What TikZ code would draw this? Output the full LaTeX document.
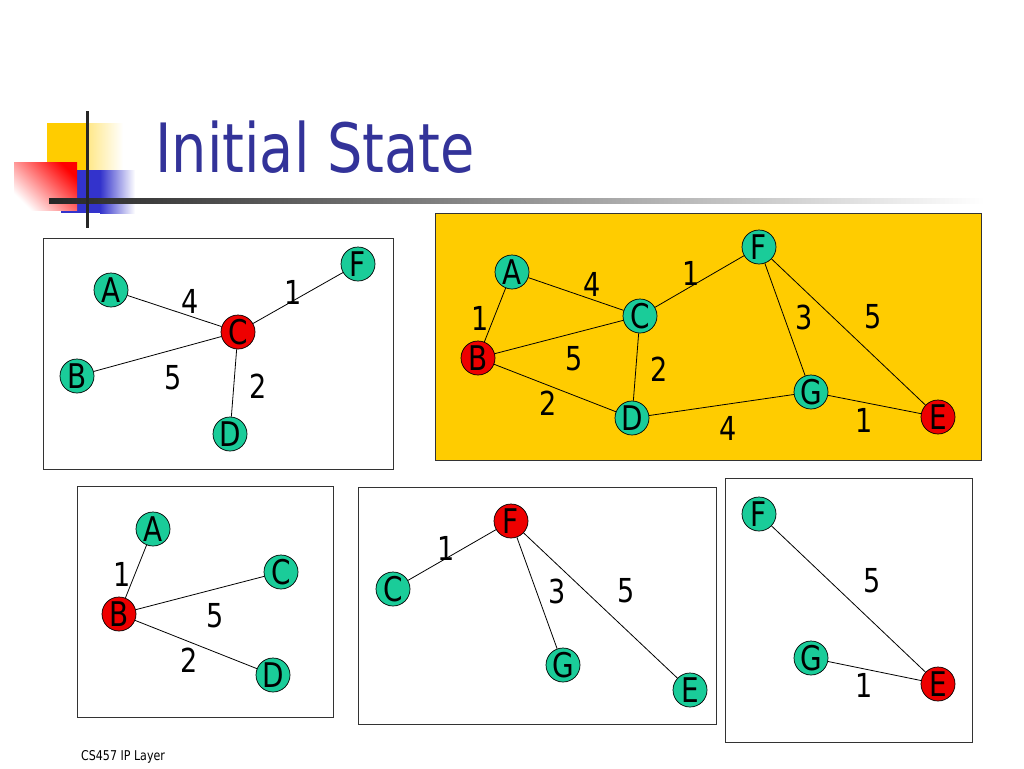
\documentclass[tikz,border=0pt]{standalone}
\usepackage{fontspec}
\setmainfont{DejaVu Sans}[FakeStretch=0.82]
\usetikzlibrary{calc}
\definecolor{nodegreen}{HTML}{1ACC99}
\definecolor{nodered}{HTML}{EE0000}
\definecolor{boxyellow}{HTML}{FFCC00}
\definecolor{titleblue}{HTML}{333399}
\definecolor{logoblue}{HTML}{3333CC}
\tikzset{
  gnode/.style={circle, draw=black, line width=0.7pt, fill=nodegreen, minimum size=34pt, inner sep=0pt, font=\fontsize{34}{34}\selectfont},
  rnode/.style={gnode, fill=nodered},
  wt/.style={font=\fontsize{33}{33}\selectfont, inner sep=0pt},
  edge/.style={draw=black, line width=0.8pt},
  frame/.style={draw=black!80, line width=0.9pt, fill=white},
}
\begin{document}
\begin{tikzpicture}[x=1pt,y=-1pt]
\useasboundingbox (0,0) rectangle (1024,768);
\fill[white] (0,0) rectangle (1024,768);
% logo
\shade[left color=boxyellow, right color=white] (47,123) rectangle (123,172);
\fill[boxyellow] (47,123) rectangle (88,172);
\shade[left color=logoblue, right color=white] (100,170) rectangle (135,213);
\fill[logoblue] (61,170) rectangle (100,213);
\shade[top color=red, bottom color=white, shading angle=-45] (14,162) rectangle (77,210);
\shade[left color=black!85, right color=white] (49,198.5) rectangle (985,203.5);
\fill[black!85] (85.5,111) rectangle (88.5,228);
\node[anchor=base west, text=titleblue, font=\fontsize{68}{68}\selectfont, inner sep=0pt] (title) at (155,172) {Initial State};
% footer
\node[anchor=base west, font=\fontsize{13.5}{14}\selectfont, inner sep=0pt] (footer) at (81,760) {CS457 IP Layer};

% ===== Box 1 =====
\node[frame, minimum width=350pt, minimum height=231pt, anchor=north west, inner sep=0pt] (box1) at (43,238) {};
\node[gnode] (a1) at (111,290) {A};
\node[rnode] (c1) at (238,332) {C};
\node[gnode] (f1) at (358,264) {F};
\node[gnode] (b1) at (77,376) {B};
\node[gnode] (d1) at (230,434) {D};
\draw[edge] (a1) -- (c1);
\draw[edge] (f1) -- (c1);
\draw[edge] (b1) -- (c1);
\draw[edge] (d1) -- (c1);
\node[wt] (w1a) at (190,301) {4};
\node[wt] (w1b) at (293,292) {1};
\node[wt] (w1c) at (173,378) {5};
\node[wt] (w1d) at (258,386) {2};

% ===== Box 2 (yellow) =====
\node[draw=black!80, line width=0.9pt, fill=boxyellow, minimum width=546pt, minimum height=247pt, anchor=north west, inner sep=0pt] (box2) at (435,213) {};
\node[gnode] (a2) at (512,272) {A};
\node[gnode] (c2) at (640,316) {C};
\node[gnode] (f2) at (759,247) {F};
\node[rnode] (b2) at (478,358) {B};
\node[gnode] (d2) at (632,418) {D};
\node[gnode] (g2) at (811,392) {G};
\node[rnode] (e2) at (938,417) {E};
\draw[edge] (a2) -- (b2);
\draw[edge] (a2) -- (c2);
\draw[edge] (b2) -- (c2);
\draw[edge] (b2) -- (d2);
\draw[edge] (c2) -- (d2);
\draw[edge] (c2) -- (f2);
\draw[edge] (f2) -- (g2);
\draw[edge] (f2) -- (e2);
\draw[edge] (d2) -- (g2);
\draw[edge] (g2) -- (e2);
\node[wt] (w2a) at (592,284) {4};
\node[wt] (w2b) at (691,273) {1};
\node[wt] (w2c) at (480,318) {1};
\node[wt] (w2d) at (574,359) {5};
\node[wt] (w2e) at (659,369) {2};
\node[wt] (w2f) at (548,403) {2};
\node[wt] (w2g) at (804,317) {3};
\node[wt] (w2h) at (873,317) {5};
\node[wt] (w2i) at (728,428) {4};
\node[wt] (w2j) at (864,420) {1};

% ===== Box 3 =====
\node[frame, minimum width=256pt, minimum height=231pt, anchor=north west, inner sep=0pt] (box3) at (77,486) {};
\node[gnode] (a3) at (153,529) {A};
\node[gnode] (c3) at (281,572) {C};
\node[rnode] (b3) at (119,614) {B};
\node[gnode] (d3) at (273,675) {D};
\draw[edge] (a3) -- (b3);
\draw[edge] (b3) -- (c3);
\draw[edge] (b3) -- (d3);
\node[wt] (w3a) at (122,574) {1};
\node[wt] (w3b) at (215,616) {5};
\node[wt] (w3c) at (189,660) {2};

% ===== Box 4 =====
\node[frame, minimum width=358pt, minimum height=237pt, anchor=north west, inner sep=0pt] (box4) at (358,487) {};
\node[rnode] (f4) at (511,521) {F};
\node[gnode] (c4) at (393,589) {C};
\node[gnode] (g4) at (563,665) {G};
\node[gnode] (e4) at (690,690) {E};
\draw[edge] (f4) -- (c4);
\draw[edge] (f4) -- (g4);
\draw[edge] (f4) -- (e4);
\node[wt] (w4a) at (446,548) {1};
\node[wt] (w4b) at (557,591) {3};
\node[wt] (w4c) at (626,591) {5};

% ===== Box 5 =====
\node[frame, minimum width=247pt, minimum height=264pt, anchor=north west, inner sep=0pt] (box5) at (725,478) {};
\node[gnode] (f5) at (759,514) {F};
\node[gnode] (g5) at (811,658) {G};
\node[rnode] (e5) at (938,684) {E};
\draw[edge] (f5) -- (e5);
\draw[edge] (g5) -- (e5);
\node[wt] (w5a) at (872,581) {5};
\node[wt] (w5b) at (864,685) {1};
\end{tikzpicture}
\end{document}
